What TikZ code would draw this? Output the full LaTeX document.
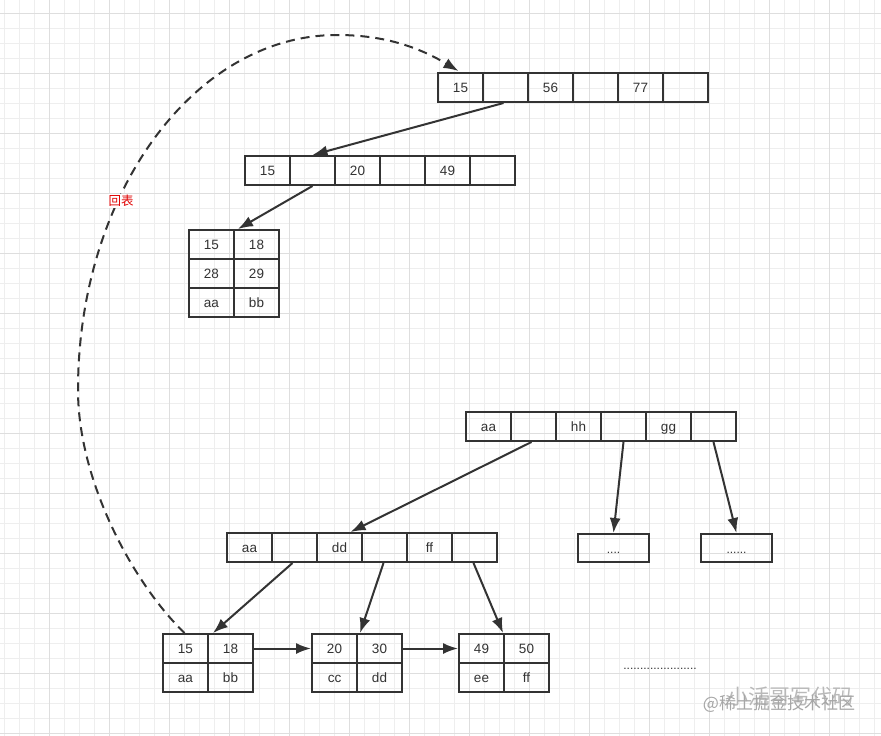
\documentclass[tikz,border=0pt]{standalone}
\usepackage{fontspec}
\setmainfont{Liberation Sans}
\newfontfamily\cjk{Noto Sans CJK SC}
\usetikzlibrary{arrows.meta,calc}
\definecolor{ink}{HTML}{333333}
\definecolor{gridminor}{HTML}{EEEEEE}
\definecolor{gridmajor}{HTML}{DEDEDE}
\definecolor{redlabel}{HTML}{E00000}
\begin{document}
\begin{tikzpicture}[x=1pt,y=-1pt,
  cell/.style={draw=ink,line width=2pt,rectangle,minimum width=45pt,minimum height=29pt,anchor=north west,inner sep=0pt,text height=10.5pt,text depth=0pt,font=\fontsize{13.5}{13.5}\selectfont,text=ink},
  dotbox/.style={draw=ink,line width=2pt,rectangle,minimum width=71pt,minimum height=28pt,anchor=north west,inner sep=0pt,text height=10.5pt,text depth=0pt,font=\fontsize{12}{12}\selectfont,text=ink},
  link/.style={draw=ink,line width=2pt,-{Latex[length=15pt,width=11pt]}},
  back/.style={draw=ink,line width=2pt,dash pattern=on 9pt off 6pt,-{Latex[length=15pt,width=11pt]}}
]
\useasboundingbox (0,0) rectangle (881,736);
\fill[white] (0,0) rectangle (881,736);
% grid
\foreach \x in {4,19,...,880} \draw[gridminor,line width=0.9pt] (\x,0) -- (\x,736);
\foreach \y in {13,28,...,735} \draw[gridminor,line width=0.9pt] (0,\y) -- (881,\y);
\foreach \x in {49,109,...,880} \draw[gridmajor,line width=1pt] (\x,0) -- (\x,736);
\foreach \y in {13,73,...,735} \draw[gridmajor,line width=1pt] (0,\y) -- (881,\y);

% top internal node
\node[cell] (t1) at (437,72) {15};
\node[cell] (t2) at (482,72) {};
\node[cell] (t3) at (527,72) {56};
\node[cell] (t4) at (572,72) {};
\node[cell] (t5) at (617,72) {77};
\node[cell] (t6) at (662,72) {};
% second internal node
\node[cell] (s1) at (244,155) {15};
\node[cell] (s2) at (289,155) {};
\node[cell] (s3) at (334,155) {20};
\node[cell] (s4) at (379,155) {};
\node[cell] (s5) at (424,155) {49};
\node[cell] (s6) at (469,155) {};
% primary leaf
\node[cell] (l1a) at (188,229) {15};
\node[cell] (l1b) at (233,229) {18};
\node[cell] (l2a) at (188,258) {28};
\node[cell] (l2b) at (233,258) {29};
\node[cell] (l3a) at (188,287) {aa};
\node[cell] (l3b) at (233,287) {bb};

% secondary index root
\node[cell] (r1) at (465,411) {aa};
\node[cell] (r2) at (510,411) {};
\node[cell] (r3) at (555,411) {hh};
\node[cell] (r4) at (600,411) {};
\node[cell] (r5) at (645,411) {gg};
\node[cell] (r6) at (690,411) {};
% secondary middle
\node[cell] (m1) at (226,532) {aa};
\node[cell] (m2) at (271,532) {};
\node[cell] (m3) at (316,532) {dd};
\node[cell] (m4) at (361,532) {};
\node[cell] (m5) at (406,532) {ff};
\node[cell] (m6) at (451,532) {};
\node[dotbox] (d1) at (577,533) {....};
\node[dotbox] (d2) at (700,533) {......};
% secondary leaves
\node[cell] (a1) at (162,633) {15};
\node[cell] (a2) at (207,633) {18};
\node[cell] (a3) at (162,662) {aa};
\node[cell] (a4) at (207,662) {bb};
\node[cell] (b1) at (311,633) {20};
\node[cell] (b2) at (356,633) {30};
\node[cell] (b3) at (311,662) {cc};
\node[cell] (b4) at (356,662) {dd};
\node[cell] (c1) at (458,633) {49};
\node[cell] (c2) at (503,633) {50};
\node[cell] (c3) at (458,662) {ee};
\node[cell] (c4) at (503,662) {ff};

% arrows
\draw[link] ($(t2.south)+(-2,0)$) -- (s2.north);
\draw[link] (s2.south) -- ($(l1a.north east)+(3,0)$);
\draw[link] ($(r2.south)+(-2,0)$) -- ($(m3.north)+(11,0)$);
\draw[link] (r4.south) -- (d1.north);
\draw[link] (r6.south) -- (d2.north);
\draw[link] ($(m2.south)+(-2,0)$) -- ($(a2.north west)+(6,0)$);
\draw[link] ($(m4.south)+(-1,0)$) -- ($(b2.north west)+(4,0)$);
\draw[link] ($(m6.south)+(-1,0)$) -- ($(c1.north east)+(-2,0)$);
\draw[link] (a2.east) -- (b1.west);
\draw[link] (b2.east) -- (c1.west);

% back-to-table dashed curve
\coordinate (p1) at (78,390);
\coordinate (p2) at (337,35);
\draw[back] ($(a1.north)+(-1,0)$) .. controls (132,582) and (78,480) .. (p1)
  .. controls (78,194) and (194,35) .. (p2)
  .. controls (380,35) and (415,45) .. ($(t1.north)+(-2,-1)$);
\node[fill=white,inner sep=1pt,text=redlabel,font=\cjk\fontsize{12.5}{12.5}\selectfont] (lbl) at (121,201) {回表};

% trailing dots
\node[text=ink,font=\fontsize{12}{12}\selectfont,inner sep=0pt] (dots) at (660,669) {......................};

% watermark
\node[text=gray!55,font=\cjk\fontsize{21}{21}\selectfont,inner sep=0pt] (wm1) at (790,697) {小活哥写代码};
\node[text=gray!70,font=\cjk\fontsize{17}{17}\selectfont,inner sep=0pt] (wm2) at (779,704) {@稀土掘金技术社区};
\end{tikzpicture}
\end{document}
